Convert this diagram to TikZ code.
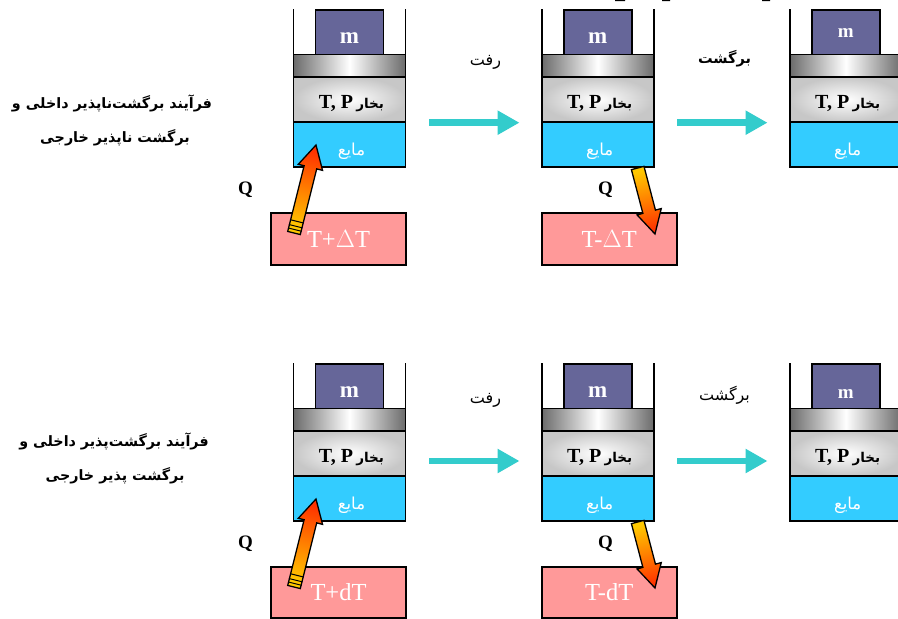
\documentclass[tikz,border=0pt]{standalone}
\usepackage{fontspec}
\setmainfont{Liberation Serif}
\newfontfamily\arabicfont[Script=Arabic]{DejaVu Sans}
\TeXXeTstate=1
\usetikzlibrary{calc,arrows.meta}
\definecolor{massc}{HTML}{666699}
\definecolor{liqc}{HTML}{33CCFF}
\definecolor{heatc}{HTML}{FF9999}
\definecolor{flowc}{HTML}{33CCCC}
\definecolor{hot}{HTML}{FF3300}
\definecolor{warm}{HTML}{FFC800}
\tikzset{
  x=1pt,y=-1pt,
  part/.style={draw=black,line width=1.7pt,anchor=north west,inner sep=0pt,outer sep=0pt,minimum width=112pt},
  massbox/.style={part,fill=massc,text=white,minimum width=68pt,minimum height=44.5pt},
  pistonbox/.style={part,minimum height=22.5pt,left color=black!58,right color=black!58,middle color=white},
  vaporbox/.style={part,minimum height=45pt,inner color=white,outer color=black!22},
  liquidbox/.style={part,fill=liqc,text=white,minimum height=45pt},
  heatbox/.style={part,fill=heatc,text=white,minimum width=135pt,minimum height=52pt,font=\fontsize{24.5}{25}\selectfont},
  wall/.style={line width=1.7pt,draw=black},
  flow/.style={draw=flowc,line width=6.5pt,-{Triangle[length=22pt,width=23pt]}},
  qlabel/.style={font=\bfseries\fontsize{19}{19}\selectfont,inner sep=0pt},
  flabel/.style={font=\arabicfont\fontsize{16}{16}\selectfont,inner sep=0pt},
  ttl/.style={font=\arabicfont\bfseries\fontsize{14.3}{14.3}\selectfont,inner sep=0pt},
  scrap/.style={fill=black},
}
\newcommand{\cyl}[5]{% name, x, piston-top y, m font size, m baseline drop
  \coordinate (#1wl) at (#2,{#3-45.5});
  \coordinate (#1wr) at ({#2+112},{#3-45.5});
  \node[massbox,font=\bfseries\fontsize{#4}{#4}\selectfont] (#1m) at ({#2+22},{#3-44.5}) {\raisebox{-#5pt}[0pt][0pt]{m}};
  \node[pistonbox] (#1p) at (#2,#3) {};
  \node[vaporbox] (#1v) at (#2,{#3+22.5}) {\raisebox{-8.5pt}[0pt][0pt]{\hspace{4pt}\bfseries\fontsize{20}{20}\selectfont T, P\,{\arabicfont\fontsize{13.5}{13.5}\selectfont\beginR بخار\endR}}};
  \node[liquidbox] (#1l) at (#2,{#3+67.5}) {\raisebox{-11pt}[0pt][0pt]{\hspace{4pt}\arabicfont\fontsize{16.5}{16.5}\selectfont\beginR مایع\endR}};
  \draw[wall] (#1wl) -- (#1p.north west);
  \draw[wall] (#1wr) -- (#1p.north east);
}
% tail coordinate, tip coordinate, shading colours and angle
\newcommand{\heatarrow}[5]{%
  \path let \p1=($(#2)-(#1)$), \n1={atan2(\y1,\x1)}, \n2={veclen(\x1,\y1)} in
    [draw=black,line width=1.3pt,line join=miter,shade,top color=#3,bottom color=#4,middle color=orange,shading angle=#5,
     shift={(#1)},rotate=\n1]
    (0pt,-6.5pt) -- ({\n2-23pt},-6.5pt) -- ({\n2-23pt},-12.5pt) -- (\n2,0pt)
      -- ({\n2-23pt},12.5pt) -- ({\n2-23pt},6.5pt) -- (0pt,6.5pt) -- cycle;
}
\newcommand{\tailbands}[2]{%
  \path let \p1=($(#2)-(#1)$), \n1={atan2(\y1,\x1)} in
    [draw=black,line width=1pt,shift={(#1)},rotate=\n1]
    (3.5pt,-7pt) -- (3.5pt,7pt) (7pt,-7pt) -- (7pt,7pt) (12pt,-7pt) -- (12pt,7pt);
}
\begin{document}
\begin{tikzpicture}
\useasboundingbox (0,0) rectangle (898,619);
\fill[white] (0,0) rectangle (898,619);
\fill[scrap] (615,0) rectangle (625,1.2) (662,0) rectangle (670,1.2) (762,0) rectangle (770,1.2);
% --- top row ---
\cyl{a}{293.5}{54.5}{23}{11}
\cyl{b}{541.7}{54.5}{23}{11}
\cyl{c}{789.7}{54.5}{19}{5}
\node[heatbox] (ah) at (271,213) {T+$\Delta$T};
\node[heatbox] (bh) at (541.7,213) {T-$\Delta$T};
\coordinate (f1a) at (429,122.7); \coordinate (f1b) at (519.5,122.7);
\coordinate (f2a) at (677,122.7); \coordinate (f2b) at (767.5,122.7);
\draw[flow] (f1a) -- (f1b);
\draw[flow] (f2a) -- (f2b);
\coordinate (h1a) at (294,233); \coordinate (h1b) at (316,145);
\coordinate (h2a) at (637.7,168); \coordinate (h2b) at (655,234);
\heatarrow{h1a}{h1b}{hot}{warm}{-14}
\tailbands{h1a}{h1b}
\heatarrow{h2a}{h2b}{warm}{hot}{14}
\node[qlabel] (q1) at (245.5,190) {Q};
\node[qlabel] (q2) at (605.5,190) {Q};
\node[flabel] (go1) at (485.5,62) {\beginR رفت\endR};
\node[flabel,font=\arabicfont\bfseries\fontsize{14.5}{14.5}\selectfont] (back1) at (724.5,59) {\beginR برگشت\endR};
\node[ttl] (t1) at (112,103) {\beginR فرآیند برگشت‌ناپذیر داخلی و\endR};
\node[ttl] (t2) at (115,138) {\beginR برگشت ناپذیر خارجی\endR};
% --- bottom row ---
\cyl{d}{293.5}{408.5}{23}{11}
\cyl{e}{541.7}{408.5}{23}{11}
\cyl{f}{789.7}{408.5}{19}{12}
\node[heatbox,minimum height=51.5pt] (dh) at (271,566.7) {T+dT};
\node[heatbox,minimum height=51.5pt] (eh) at (541.7,566.7) {T-dT};
\coordinate (f3a) at (429,461); \coordinate (f3b) at (519.5,461);
\coordinate (f4a) at (677,461); \coordinate (f4b) at (767.5,461);
\draw[flow] (f3a) -- (f3b);
\draw[flow] (f4a) -- (f4b);
\coordinate (h3a) at (294,587); \coordinate (h3b) at (316,499);
\coordinate (h4a) at (637.7,522); \coordinate (h4b) at (655,588);
\heatarrow{h3a}{h3b}{hot}{warm}{-14}
\tailbands{h3a}{h3b}
\heatarrow{h4a}{h4b}{warm}{hot}{14}
\node[qlabel] (q3) at (245.5,544) {Q};
\node[qlabel] (q4) at (605.5,544) {Q};
\node[flabel] (go2) at (485.5,400) {\beginR رفت\endR};
\node[flabel] (back2) at (724.5,395) {\beginR برگشت\endR};
\node[ttl] (t3) at (114,441) {\beginR فرآیند برگشت‌پذیر داخلی و\endR};
\node[ttl] (t4) at (115,476) {\beginR برگشت پذیر خارجی\endR};
\end{tikzpicture}
\end{document}
